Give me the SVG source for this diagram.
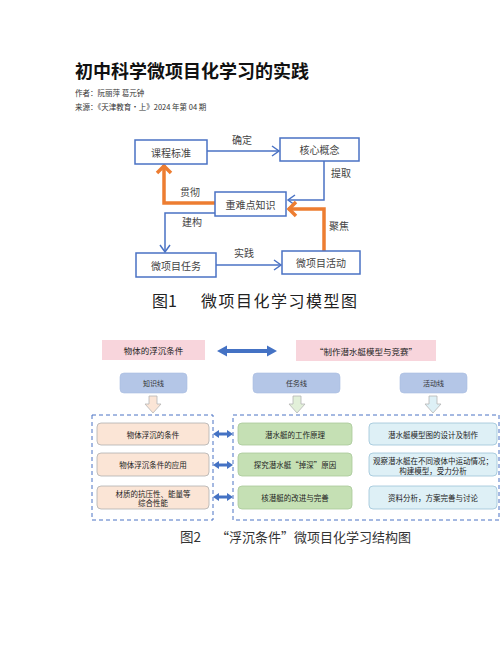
<svg xmlns="http://www.w3.org/2000/svg" width="502" height="649" viewBox="0 0 502 649">
<defs>
<style>
text{font-family:"Noto Sans CJK SC","Liberation Sans",sans-serif;}
.t1{font-size:10px;fill:#444;text-anchor:middle;dominant-baseline:central;}
.b1{fill:#fff;stroke:#4a72c4;stroke-width:1.5;}
.bl{fill:none;stroke:#4a72c4;stroke-width:1.5;}
.or{fill:none;stroke:#ed7d31;stroke-width:3.5;}
.pink{fill:#f8d5dc;}
.line{fill:#b4c6e7;stroke:#a9bde0;stroke-width:0.6;}
.t2{font-size:8.5px;fill:#222;text-anchor:middle;dominant-baseline:central;}
.t3{font-size:7px;fill:#333;text-anchor:middle;dominant-baseline:central;}
.t4{font-size:7.5px;fill:#222;text-anchor:middle;dominant-baseline:central;}
.pe{fill:#fbe5d6;stroke:#b0b0b0;stroke-width:0.8;}
.gr{fill:#c5e0b4;stroke:#a9c99a;stroke-width:0.8;}
.cy{fill:#def0f6;stroke:#9cc3d8;stroke-width:0.8;}
.dash{fill:none;stroke:#4a72c4;stroke-width:1;stroke-dasharray:4 3;}
.da{fill:#4472c4;}
</style>
<marker id="mb" markerUnits="userSpaceOnUse" markerWidth="12" markerHeight="12" viewBox="-9 -6 10 12" refX="0" refY="0" orient="auto">
<path d="M-7,-5 L0,0 L-7,5" fill="none" stroke="#4a72c4" stroke-width="1.5"/>
</marker>
<marker id="mo" markerUnits="userSpaceOnUse" markerWidth="16" markerHeight="18" viewBox="-11 -9 13 18" refX="0" refY="0" orient="auto">
<path d="M-8,-7 L-1,0 L-8,7" fill="none" stroke="#ed7d31" stroke-width="3.5"/>
</marker>
</defs>
<rect width="502" height="649" fill="#fff"/>

<text x="75" y="78" style="font-size:18px;font-weight:bold;fill:#111;">初中科学微项目化学习的实践</text>
<text x="75" y="96" style="font-size:7.5px;fill:#333;">作者：阮丽萍 葛元钟</text>
<text x="75" y="110" style="font-size:7.5px;fill:#333;">来源：《天津教育·上》2024 年第 04 期</text>

<g id="connectors1">
<line x1="207" y1="151" x2="279" y2="151" class="bl" marker-end="url(#mb)"/>
<polyline points="324,161 324,200 288,200" class="bl" marker-end="url(#mb)"/>
<polyline points="215,213 165,213 165,252" class="bl" marker-end="url(#mb)"/>
<line x1="216" y1="265" x2="281" y2="265" class="bl" marker-end="url(#mb)"/>
<polyline points="215,203 164,203 164,165" class="or" marker-end="url(#mo)"/>
<polyline points="324,251 324,209 288,209" class="or" marker-end="url(#mo)"/>
<text x="242" y="139" class="t1">确定</text>
<text x="341" y="172" class="t1">提取</text>
<text x="190" y="191" class="t1">贯彻</text>
<text x="192" y="221" class="t1">建构</text>
<text x="339" y="225" class="t1">聚焦</text>
<text x="244" y="252" class="t1">实践</text>
</g>
<g id="kcbz"><rect x="135" y="140" width="72" height="24" class="b1"/><text x="171" y="152" class="t1">课程标准</text></g>
<g id="hxgn"><rect x="280" y="138" width="79" height="23" class="b1"/><text x="319.5" y="149.5" class="t1">核心概念</text></g>
<g id="zndzs"><rect x="215" y="192" width="71" height="24" class="b1"/><text x="250.5" y="204" class="t1">重难点知识</text></g>
<g id="wxmrw"><rect x="136" y="253" width="80" height="24" class="b1"/><text x="176" y="265" class="t1">微项目任务</text></g>
<g id="wxmhd"><rect x="282" y="251" width="78" height="23" class="b1"/><text x="321" y="262.5" class="t1">微项目活动</text></g>
<text x="152" y="300" style="font-size:16px;fill:#222;dominant-baseline:central;">图1</text>
<text x="201" y="300" style="font-size:16px;fill:#222;dominant-baseline:central;letter-spacing:1.5px;">微项目化学习模型图</text>

<g id="connectors2">
<polygon class="da" points="217,351 227,345.5 227,349 267,349 267,345.5 277,351 267,356.5 267,353 227,353 227,356.5"/>
<polygon class="da" points="213,434 219,430 219,432.5 227,432.5 227,430 233,434 227,438 227,435.5 219,435.5 219,438"/>
<polygon class="da" points="213,465 219,461 219,463.5 227,463.5 227,461 233,465 227,469 227,466.5 219,466.5 219,469"/>
<polygon class="da" points="213,497 219,493 219,495.5 227,495.5 227,493 233,497 227,501 227,498.5 219,498.5 219,501"/>
<polygon points="149,396 157,396 157,404 161,404 153,413 145,404 149,404" fill="#fbe5d6" stroke="#b5b5b5" stroke-width="0.8"/>
<polygon points="293,396 301,396 301,404 305,404 297,413 289,404 293,404" fill="#e2f0d9" stroke="#b5b5b5" stroke-width="0.8"/>
<polygon points="429,396 437,396 437,404 441,404 433,413 425,404 429,404" fill="#ddf0f6" stroke="#b5b5b5" stroke-width="0.8"/>
</g>
<g id="top2">
<rect x="102" y="340" width="103" height="20" class="pink"/><text x="153.5" y="350" class="t2">物体的浮沉条件</text>
<rect x="296" y="340" width="140" height="21" class="pink"/><text x="366" y="350.5" class="t2">“制作潜水艇模型与竞赛”</text>
</g>
<g id="lines">
<rect x="120" y="373" width="67" height="20" rx="4" class="line"/><text x="153.5" y="383" class="t3">知识线</text>
<rect x="253" y="373" width="87" height="20" rx="4" class="line"/><text x="296.5" y="383" class="t3">任务线</text>
<rect x="400" y="373" width="67" height="20" rx="4" class="line"/><text x="433.5" y="383" class="t3">活动线</text>
</g>
<rect x="92" y="415" width="121" height="105" class="dash"/>
<rect x="233" y="415" width="266" height="105" class="dash"/>
<g id="left">
<rect x="97" y="423" width="112" height="22" rx="4" class="pe"/><text x="153" y="434" class="t4">物体浮沉的条件</text>
<rect x="97" y="453" width="112" height="23" rx="4" class="pe"/><text x="153" y="464.5" class="t4">物体浮沉条件的应用</text>
<rect x="97" y="486" width="112" height="23" rx="4" class="pe"/><text x="153" y="493" class="t4">材质的抗压性、能量等</text><text x="153" y="502.5" class="t4">综合性能</text>
</g>
<g id="mid">
<rect x="238" y="423" width="114" height="22" rx="4" class="gr"/><text x="295" y="434" class="t4">潜水艇的工作原理</text>
<rect x="238" y="453" width="114" height="23" rx="4" class="gr"/><text x="295" y="464.5" class="t4">探究潜水艇“掉深”原因</text>
<rect x="238" y="486" width="114" height="23" rx="4" class="gr"/><text x="295" y="497.5" class="t4">核潜艇的改进与完善</text>
</g>
<g id="right">
<rect x="369" y="423" width="128" height="22" rx="4" class="cy"/><text x="433" y="434" class="t4">潜水艇模型图的设计及制作</text>
<rect x="369" y="453" width="128" height="23" rx="4" class="cy"/><text x="433" y="460" class="t4">观察潜水艇在不同液体中运动情况；</text><text x="433" y="470" class="t4">构建模型，受力分析</text>
<rect x="369" y="486" width="128" height="23" rx="4" class="cy"/><text x="433" y="497.5" class="t4">资料分析，方案完善与讨论</text>
</g>
<text x="180" y="536" style="font-size:13.5px;fill:#333;dominant-baseline:central;">图2</text>
<text x="216" y="536" style="font-size:13px;fill:#333;dominant-baseline:central;">“浮沉条件”微项目化学习结构图</text>
</svg>
